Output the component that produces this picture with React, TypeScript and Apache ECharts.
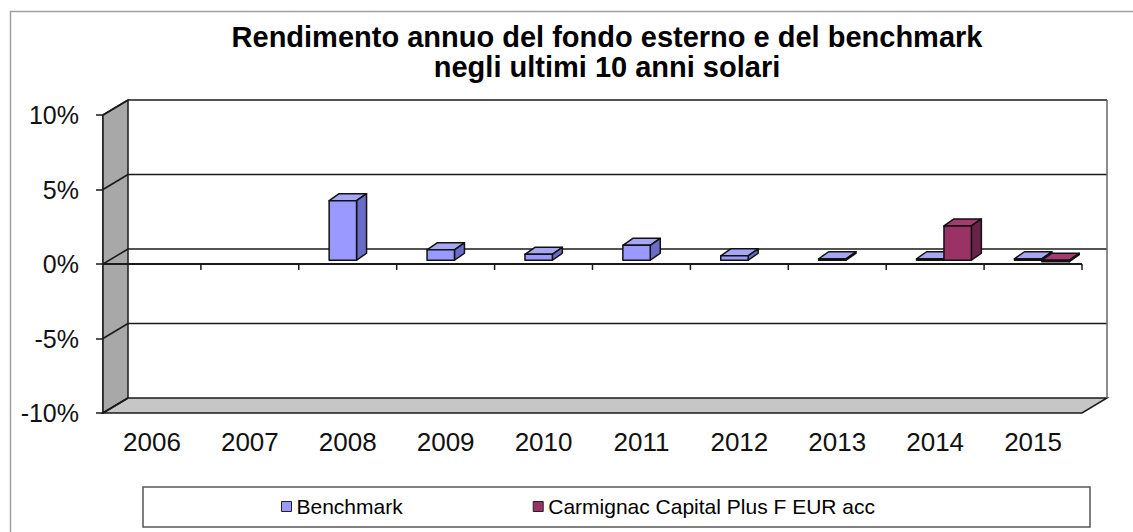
import React, { useEffect, useRef } from "react";
import * as echarts from "echarts";

const years = ["2006", "2007", "2008", "2009", "2010", "2011", "2012", "2013", "2014", "2015"];
const benchmark: (number | null)[] = [null, null, 4.0, 0.7, 0.4, 1.0, 0.3, 0.1, 0.1, 0.1];
const carmignac: (number | null)[] = [null, null, null, null, null, null, null, null, 2.3, -0.1];
const yTicks = [-10, -5, 0, 5, 10];
const seriesNames = ["Benchmark", "Carmignac Capital Plus F EUR acc"];
const titleText = "Rendimento annuo del fondo esterno e del benchmark\nnegli ultimi 10 anni solari";

// 3D look (layout only)
const DX = 25;
const DY = -15;
const BAR_DX = 10;
const BAR_DY = -7;
const LINE = "#1a1a1a";

const palettes = [
  { front: "#9999ff", top: "#a6a6f2", side: "#6b6bc8" },
  { front: "#993366", top: "#a33b6f", side: "#6a2348" },
];

function frameRender(params: any, api: any) {
  const cs = params.coordSys;
  const x0 = cs.x;
  const x1 = cs.x + cs.width;
  const yAt = (v: number) => api.coord([0, v])[1];
  const yMin = yAt(yTicks[0]);
  const yMax = yAt(yTicks[yTicks.length - 1]);
  const yZero = yAt(0);
  const band = cs.width / years.length;
  const children: any[] = [];
  children.push({
    type: "polygon",
    shape: { points: [[x0, yMax], [x0 + DX, yMax + DY], [x0 + DX, yMin + DY], [x0, yMin]] },
    style: { fill: "#a8a8a8", stroke: LINE, lineWidth: 1.5 },
  });
  children.push({
    type: "polygon",
    shape: { points: [[x0, yMin], [x0 + DX, yMin + DY], [x1 + DX, yMin + DY], [x1, yMin]] },
    style: { fill: "#c6c6c6", stroke: LINE, lineWidth: 1.5 },
  });
  yTicks.forEach((t) => {
    const y = yAt(t);
    if (t !== yTicks[0]) {
      children.push({
        type: "line",
        shape: { x1: x0 + DX, y1: y + DY, x2: x1 + DX, y2: y + DY },
        style: { stroke: LINE, lineWidth: 1.5 },
      });
    }
    children.push({
      type: "line",
      shape: { x1: x0, y1: y, x2: x0 + DX, y2: y + DY },
      style: { stroke: LINE, lineWidth: 1.5 },
    });
  });
  children.push({
    type: "line",
    shape: { x1: x1 + DX, y1: yMax + DY, x2: x1 + DX, y2: yMin + DY },
    style: { stroke: "#666", lineWidth: 1.5 },
  });
  children.push({
    type: "line",
    shape: { x1: x0, y1: yZero, x2: x1, y2: yZero },
    style: { stroke: LINE, lineWidth: 2 },
  });
  for (let k = 1; k <= years.length; k++) {
    const x = x0 + k * band;
    children.push({
      type: "line",
      shape: { x1: x, y1: yZero, x2: x, y2: yZero + 6 },
      style: { stroke: LINE, lineWidth: 1.5 },
    });
  }
  return { type: "group", children };
}

function makeBarRender(sIdx: number) {
  const pal = palettes[sIdx];
  return (params: any, api: any) => {
    const i = api.value(0);
    const v = api.value(1);
    const band = api.size([1, 0])[0];
    const base = api.coord([i, 0]);
    const w = band * 0.28;
    const left = base[0] - band * 0.19 + sIdx * w;
    const oy = DY * 0.25;
    const y0 = base[1] + oy;
    const yv = api.coord([i, v])[1] + oy;
    const top = Math.min(y0, yv);
    const bot = Math.max(y0, yv);
    const st = { stroke: "#111", lineWidth: 1.5, lineJoin: "round" };
    return {
      type: "group",
      children: [
        {
          type: "polygon",
          shape: { points: [[left, top], [left + BAR_DX, top + BAR_DY], [left + w + BAR_DX, top + BAR_DY], [left + w, top]] },
          style: { fill: pal.top, ...st },
        },
        {
          type: "polygon",
          shape: { points: [[left + w, top], [left + w + BAR_DX, top + BAR_DY], [left + w + BAR_DX, bot + BAR_DY], [left + w, bot]] },
          style: { fill: pal.side, ...st },
        },
        {
          type: "rect",
          shape: { x: left, y: top, width: w, height: Math.max(bot - top, 0.5) },
          style: { fill: pal.front, ...st },
        },
      ],
    };
  };
}

const toData = (arr: (number | null)[]) =>
  arr.map((v, i) => (v == null ? null : [i, v])).filter((d) => d !== null) as number[][];

export default function App() {
  const ref = useRef<HTMLDivElement>(null);
  useEffect(() => {
    if (!ref.current) return;
    const chart = echarts.init(ref.current, null, { renderer: "svg" });
    const font = "'Liberation Sans', Arial, sans-serif";
    chart.setOption({
      animation: false,
      backgroundColor: "#ffffff",
      textStyle: { fontFamily: font },
      title: {
        text: titleText,
        left: 607,
        top: 22,
        padding: 0,
        textAlign: "center",
        textStyle: { fontFamily: font, fontSize: 29, fontWeight: "bold", color: "#000", lineHeight: 30 },
      },
      grid: { left: 103, right: 51, top: 115, bottom: 119, containLabel: false },
      xAxis: {
        type: "category",
        data: years,
        boundaryGap: true,
        axisLine: { show: false },
        axisTick: { show: false },
        axisLabel: { fontSize: 26, color: "#111", margin: 16, fontFamily: font },
        splitLine: { show: false },
      },
      yAxis: {
        type: "value",
        min: yTicks[0],
        max: yTicks[yTicks.length - 1],
        interval: 5,
        axisLine: { show: true, lineStyle: { color: LINE, width: 1.5 } },
        axisTick: { show: true, length: 7, lineStyle: { color: LINE, width: 1.5 } },
        axisLabel: { formatter: "{value}%", fontSize: 25, color: "#111", margin: 24, fontFamily: font },
        splitLine: { show: false },
      },
      legend: {
        left: 281,
        top: 496,
        padding: 0,
        itemWidth: 10,
        itemHeight: 10,
        itemGap: 130,
        icon: "rect",
        textStyle: { fontSize: 21, color: "#000", fontFamily: font },
        data: seriesNames.map((n, k) => ({
          name: n,
          itemStyle: { color: palettes[k].front, borderColor: "#222", borderWidth: 1 },
        })),
      },
      graphic: [
        {
          type: "rect",
          left: 8,
          top: 9,
          shape: { width: 1140, height: 540 },
          style: { fill: "none", stroke: "#a0a0a0", lineWidth: 1.5 },
          silent: true,
          z: -10,
        },
        {
          type: "rect",
          shape: { x: 143, y: 487, width: 947, height: 40 },
          style: { fill: "none", stroke: "#555", lineWidth: 1.5 },
          silent: true,
        },
      ],
      series: [
        {
          type: "custom",
          name: "frame",
          renderItem: frameRender,
          data: [[0, 0]],
          z: 1,
          silent: true,
          legendHoverLink: false,
        },
        {
          type: "custom",
          name: seriesNames[0],
          renderItem: makeBarRender(0),
          data: toData(benchmark),
          itemStyle: { color: palettes[0].front },
          z: 3,
        },
        {
          type: "custom",
          name: seriesNames[1],
          renderItem: makeBarRender(1),
          data: toData(carmignac),
          itemStyle: { color: palettes[1].front },
          z: 4,
        },
      ],
    });
    return () => chart.dispose();
  }, []);
  return (
    <div
      ref={ref}
      style={{ position: "fixed", left: 0, top: 0, width: 1133, height: 532, background: "#fff" }}
    />
  );
}
